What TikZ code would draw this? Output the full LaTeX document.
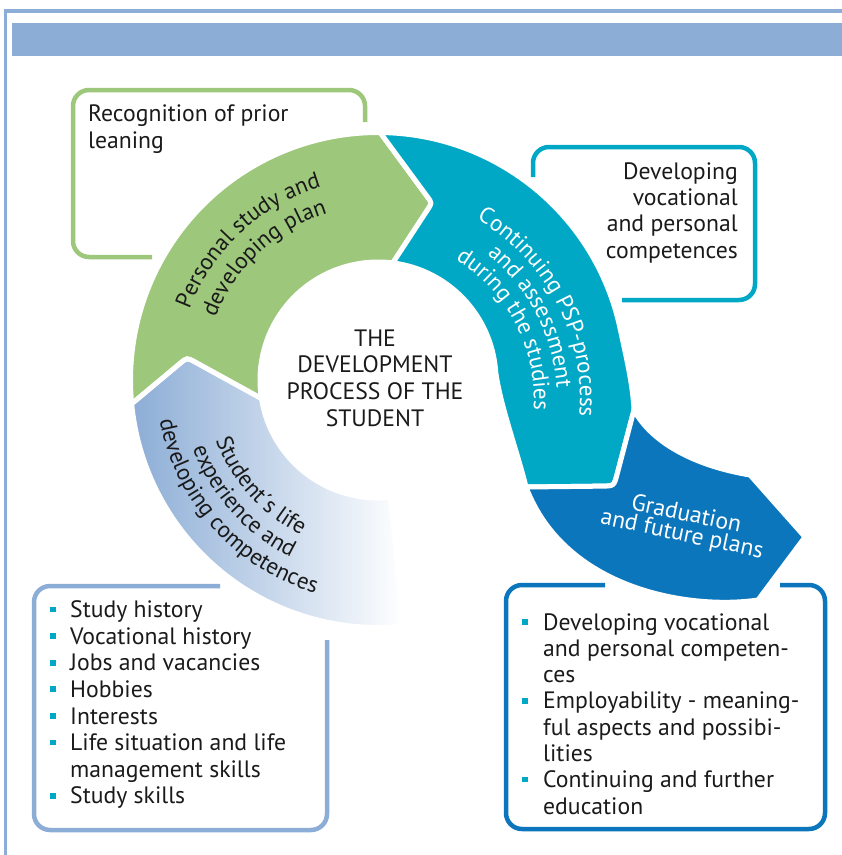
\documentclass[tikz,border=0pt]{standalone}
\usepackage{fontspec}
\setmainfont{PT Sans}
\usetikzlibrary{calc,decorations.text}
\definecolor{lblue}{HTML}{8CADD6}
\definecolor{pgreen}{HTML}{9DC77B}
\definecolor{pteal}{HTML}{00A8C6}
\definecolor{pdblue}{HTML}{0B76BC}
\definecolor{ink}{HTML}{1A1A1A}
\newcommand{\bodyfont}{\fontsize{23.7}{26.6}\selectfont}
\newcommand{\ringfont}{\fontsize{23}{23}\selectfont}
\begin{document}
\begin{tikzpicture}[x=1pt,y=1pt,
  boxline/.style={line width=4.5pt, rounded corners=16pt},
  seg/.style={draw=white, line width=5pt},
  txt/.style={inner sep=0pt, font=\bodyfont, text=ink},
  bul/.style={inner sep=0pt, minimum size=5.8pt, fill=pteal},
  ringtext/.style={decorate, decoration={text along path, text align=center, text={#1}}},
]
\useasboundingbox (0,0) rectangle (842,-855);
% frame and banner
\draw[lblue, line width=3.5pt] (842,-11) -- (5.5,-11) -- (5.5,-855);
\fill[lblue] (12,-23) rectangle (842,-56);

% boxes (open outlines)
\draw[boxline, pgreen] (152,-257) -- (73,-257) -- (73,-90) -- (365,-90) -- (365,-122);
\draw[boxline, pteal] (533,-177) -- (533,-147) -- (755,-147) -- (755,-300) -- (622,-300);
\draw[boxline, lblue] (220,-586) -- (34,-586) -- (34,-830) -- (327,-830) -- (327,-640);
\draw[boxline, pdblue] (605,-585) -- (506,-585) -- (506,-829) -- (825,-829) -- (825,-585) -- (780,-585);

% geometry
\def\Ro{247.5}
\def\Ri{118}
\coordinate (C1) at (378,-380);
\coordinate (C3) at (370,-400);
\coordinate (T1) at (187,-357.5);
\coordinate (P1o) at ($(C1)+(185.5:\Ro)$);
\coordinate (P1i) at ($(C1)+(189:\Ri)$);
\coordinate (T1a) at ($(T1)!9pt!(P1o)$);
\coordinate (T1b) at ($(T1)!9pt!(P1i)$);
\coordinate (P2o) at ($(C1)+(89.5:\Ro)$);
\coordinate (P2i) at ($(C1)+(82.8:\Ri)$);
\coordinate (T2) at (432,-203);
\coordinate (T2a) at ($(T2)!8pt!(P2o)$);
\coordinate (T2b) at ($(T2)!8pt!(P2i)$);
\coordinate (Qo) at (634,-410);
\coordinate (Qc) at (614,-486);
\coordinate (Qi) at (526,-487);
\coordinate (Qca) at ($(Qc)!12pt!(Qo)$);
\coordinate (Qcb) at ($(Qc)!12pt!(Qi)$);
\coordinate (TIa) at ($(C1)+(4:\Ri)$);
\coordinate (A1) at (750,-475);
\coordinate (A2) at (805,-537);
\coordinate (A3) at (758,-600);

% light blue segment
\path[seg, left color=lblue, middle color=lblue!72, right color=white]
  (P1o) arc[start angle=185.5, end angle=276, radius=\Ro]
  -- ($(C1)+(276:\Ri)$) arc[start angle=276, end angle=189, radius=\Ri]
  -- (T1b) .. controls (T1) .. (T1a) -- cycle;
% green segment
\path[seg, fill=pgreen]
  (P2o) arc[start angle=89.5, end angle=185.5, radius=\Ro]
  -- (T1a) .. controls (T1) .. (T1b)
  -- (P1i) arc[start angle=189, end angle=82.8, radius=\Ri]
  -- (T2b) .. controls (T2) .. (T2a) -- cycle;
% teal segment
\path[seg, fill=pteal]
  (P2o) arc[start angle=89.5, end angle=12, radius=\Ro]
  .. controls (625.3,-353) and (633,-385) .. (Qo)
  -- (Qca) .. controls (Qc) .. (Qcb) -- (Qi)
  .. controls (517.8,-453) and (500,-405) .. (TIa)
  arc[start angle=4, end angle=82.8, radius=\Ri]
  -- (T2b) .. controls (T2) .. (T2a) -- cycle;
% dark blue segment
\path[seg, fill=pdblue]
  (Qo) .. controls (650,-440) and (690,-465) .. (A1) -- (A2) -- (A3)
  .. controls (690,-610) and (565,-590) .. (Qi)
  -- (Qcb) .. controls (Qc) .. (Qca) -- cycle;

% ring texts
\path[ringtext={|\ringfont\color{ink}|Personal study and}] ($(C1)+(178:201)$) arc[start angle=178, end angle=88, radius=201];
\path[ringtext={|\ringfont\color{ink}|developing plan}] ($(C1)+(178:174)$) arc[start angle=178, end angle=88, radius=174];
\path[ringtext={|\ringfont\color{white}|Continuing PSP-process}] ($(C3)+(88:210)$) arc[start angle=88, end angle=-33, radius=210];
\path[ringtext={|\ringfont\color{white}|and assessment}] ($(C3)+(88:187)$) arc[start angle=88, end angle=-33, radius=187];
\path[ringtext={|\ringfont\color{white}|during the studies}] ($(C3)+(88:164)$) arc[start angle=88, end angle=-33, radius=164];
\path[ringtext={|\ringfont\color{ink}|Student´s life}] ($(C1)+(162:173)$) arc[start angle=162, end angle=282, radius=173];
\path[ringtext={|\ringfont\color{ink}|experience and}] ($(C1)+(162:197.5)$) arc[start angle=162, end angle=282, radius=197.5];
\path[ringtext={|\ringfont\color{ink}|developing competences}] ($(C1)+(162:222)$) arc[start angle=162, end angle=282, radius=222];
\node[inner sep=0pt, rotate=-12, align=center, text=white, font=\fontsize{23.7}{20.5}\selectfont] (grad) at (684,-525) {Graduation\\and future plans};

% centre text
\node[txt, anchor=base] (c1) at (375,-346) {THE};
\node[txt, anchor=base] (c2) at (375,-372.7) {DEVELOPMENT};
\node[txt, anchor=base] (c3) at (375,-399.4) {PROCESS OF THE};
\node[txt, anchor=base] (c4) at (375,-426) {STUDENT};

% box texts
\node[txt, anchor=base west] (r1) at (88,-121.7) {Recognition of prior};
\node[txt, anchor=base west] (r2) at (88,-148.4) {leaning};
\node[txt, anchor=base east] (d1) at (738,-179.3) {Developing};
\node[txt, anchor=base east] (d2) at (738,-205.6) {vocational};
\node[txt, anchor=base east] (d3) at (738,-231.9) {and personal};
\node[txt, anchor=base east] (d4) at (738,-258.2) {competences};

% left list
\foreach \t/\y/\b [count=\i] in {Study history/617.7/1, Vocational history/644.3/1, Jobs and vacancies/670.9/1, Hobbies/697.5/1, Interests/724.1/1, Life situation and life/750.7/1, management skills/777.3/0, Study skills/803.9/1}{
  \node[txt, anchor=base west] (L\i) at (70,-\y) {\t};
  \ifnum\b=1 \node[bul] (LB\i) at (52.75,-\y+8.3) {};\fi
}
% right list
\foreach \t/\y/\b [count=\i] in {Developing vocational/630/1, and personal competen-/656.3/0, ces/682.6/0, Employability - meaning-/708.9/1, ful aspects and possibi-/735.2/0, lities/761.5/0, Continuing and further/787.8/1, education/814.1/0}{
  \node[txt, anchor=base west] (R\i) at (543,-\y) {\t};
  \ifnum\b=1 \node[bul] (RB\i) at (525,-\y+8.3) {};\fi
}
\end{tikzpicture}
\end{document}
